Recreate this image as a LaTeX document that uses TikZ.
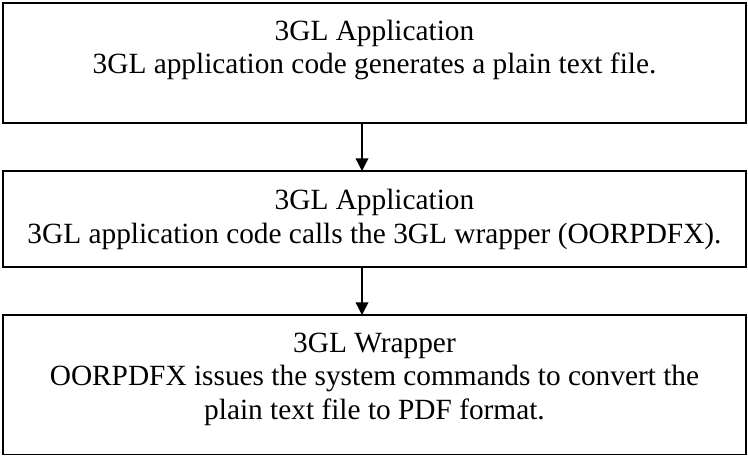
\documentclass[tikz,border=0pt]{standalone}
\usepackage{fontspec}
\setmainfont{Liberation Serif}
\usetikzlibrary{calc,arrows.meta}

\begin{document}
\begin{tikzpicture}[x=0.75pt,y=-0.75pt,
     block/.style = {draw, rectangle, line width=1pt, minimum width=557.25pt,
      inner sep=0pt, outer sep=0pt, anchor=north},
     txt/.style = {align=center, anchor=base, inner sep=0pt,
      font=\fontsize{22}{25.1}\selectfont},
     arrow/.style = {draw, line width=1pt, -{Triangle[length=9.5pt,width=9.5pt]}}
    ]
    \useasboundingbox (0,0) rectangle (748,456);

    \node [block, minimum height=90pt] (gen) at (374.5,3) {};
    \node [block, minimum height=72pt] (call) at (374.5,171) {};
    \node [block, minimum height=104.6pt] (wrap) at (374.5,315) {};

    \node [txt] (gentxt) at (374.5,74) {3GL Application\\3GL application code generates a plain text file.};
    \node [txt] (calltxt) at (374.5,243) {3GL Application\\3GL application code calls the 3GL wrapper (OORPDFX).};
    \node [txt] (wraptxt) at (374.5,419) {3GL Wrapper\\OORPDFX issues the system commands to convert the\\plain text file to PDF format.};

    \draw[arrow] ($(gen.south)+(-12.5,0)$) -- ($(call.north)+(-12.5,0)$);
    \draw[arrow] ($(call.south)+(-12.5,0)$) -- ($(wrap.north)+(-12.5,0)$);

\end{tikzpicture}
\end{document}
